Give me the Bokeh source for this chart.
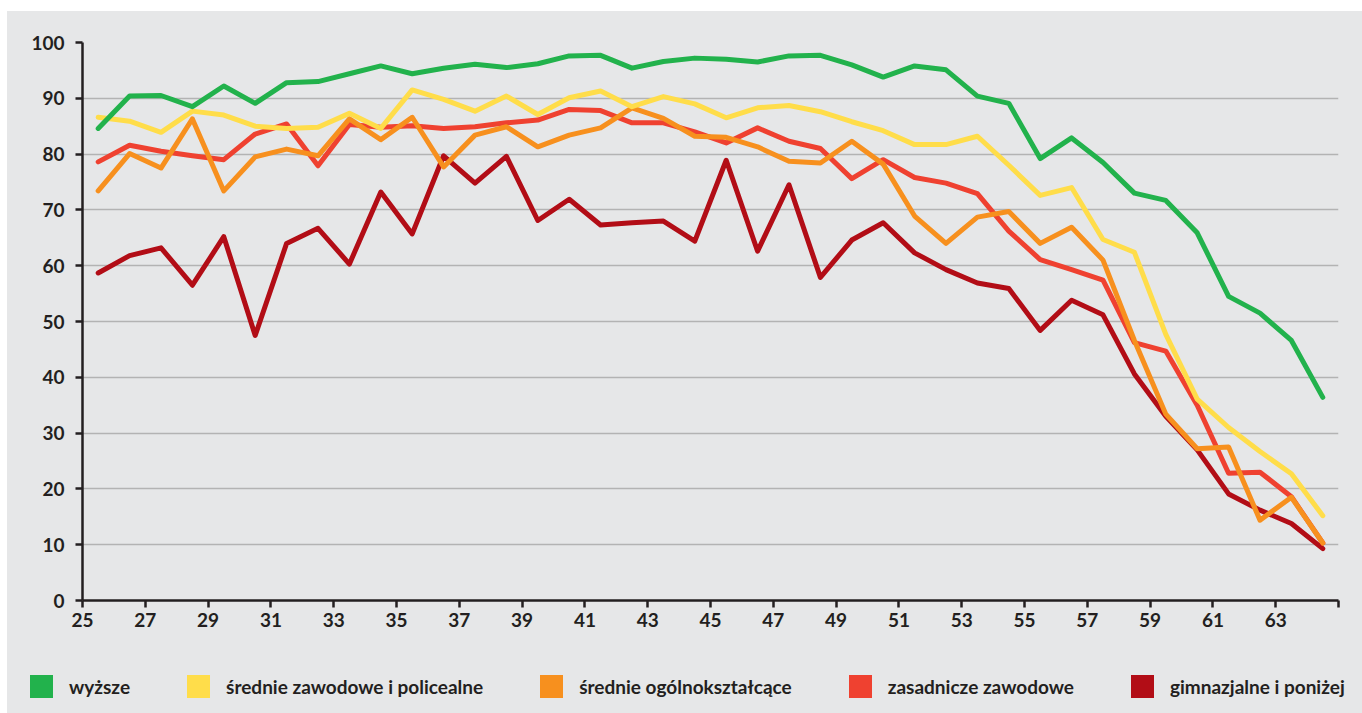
from bokeh.plotting import figure
from bokeh.layouts import column
from bokeh.models import Range1d, FixedTicker, Div
from bokeh.embed import file_html
from bokeh.resources import INLINE

ages = list(range(25, 65))

wyzsze = [84.6, 90.4, 90.5, 88.5, 92.2, 89.1, 92.8, 93.0, 94.4, 95.8, 94.4, 95.4, 96.1, 95.5, 96.2, 97.6, 97.7, 95.4, 96.6, 97.2,
          97.0, 96.5, 97.6, 97.7, 96.0, 93.8, 95.8, 95.1, 90.4, 89.1, 79.2, 82.9, 78.5, 73.0, 71.7, 65.9, 54.5, 51.5, 46.6, 36.4]
srednie_zaw = [86.6, 85.9, 83.9, 87.7, 87.0, 85.0, 84.6, 84.8, 87.3, 84.6, 91.5, 89.8, 87.7, 90.4, 87.1, 90.1, 91.3, 88.5, 90.3, 89.0,
               86.5, 88.3, 88.7, 87.6, 85.8, 84.2, 81.7, 81.7, 83.2, 78.0, 72.6, 74.0, 64.7, 62.4, 47.7, 36.1, 31.0, 26.7, 22.7, 15.2]
srednie_ogol = [73.4, 80.1, 77.5, 86.3, 73.4, 79.5, 80.9, 79.7, 86.3, 82.6, 86.6, 77.7, 83.4, 84.9, 81.3, 83.4, 84.7, 88.3, 86.4, 83.2,
                83.0, 81.3, 78.7, 78.4, 82.3, 78.2, 68.9, 64.0, 68.7, 69.7, 64.0, 66.9, 61.0, 46.6, 33.4, 27.2, 27.5, 14.4, 18.5, 10.3]
zasadnicze = [78.6, 81.6, 80.5, 79.7, 79.0, 83.6, 85.4, 77.9, 85.3, 84.8, 85.1, 84.6, 84.9, 85.6, 86.1, 88.0, 87.8, 85.6, 85.6, 84.0,
              82.0, 84.7, 82.3, 81.0, 75.6, 79.0, 75.8, 74.8, 72.9, 66.2, 61.1, 59.3, 57.4, 46.2, 44.7, 35.0, 22.8, 23.0, 18.6, 10.3]
gimnazjalne = [58.7, 61.8, 63.2, 56.5, 65.2, 47.5, 64.0, 66.7, 60.3, 73.2, 65.7, 79.7, 74.8, 79.6, 68.1, 71.9, 67.3, 67.7, 68.0, 64.4,
               78.9, 62.6, 74.5, 57.9, 64.6, 67.7, 62.3, 59.3, 56.9, 55.9, 48.4, 53.8, 51.2, 40.6, 33.0, 27.0, 19.1, 16.2, 13.8, 9.3]

names = ["wyższe", "średnie zawodowe i policealne", "średnie ogólnokształcące", "zasadnicze zawodowe", "gimnazjalne i poniżej"]
colors = ["#22b24c", "#ffdd4a", "#f7901e", "#ef4130", "#b20d16"]
series = [wyzsze, srednie_zaw, srednie_ogol, zasadnicze, gimnazjalne]

x_ticks = list(range(25, 67, 2))
y_ticks = list(range(0, 101, 10))

BG = "#e6e7e8"
TXT = "#231f20"
FONT = "Lato"

# ---- main chart ----
p = figure(width=1355, height=639, output_backend="svg", toolbar_location=None,
           margin=(0, 0, 0, 0),
           x_range=Range1d(25, 65), y_range=Range1d(0, 100),
           min_border_left=75, min_border_right=24, min_border_top=31, min_border_bottom=50)
p.background_fill_color = BG
p.border_fill_color = BG
p.outline_line_color = None

xs = [a + 0.5 for a in ages]
for vals, col in reversed(list(zip(series, colors))):
    p.line(xs, vals, line_color=col, line_width=5, line_join="round", line_cap="round")

p.xaxis.ticker = FixedTicker(ticks=x_ticks)
p.xaxis.major_label_overrides = {65: ""}
p.yaxis.ticker = FixedTicker(ticks=y_ticks)

for ax in (p.xaxis, p.yaxis):
    ax.axis_line_color = TXT
    ax.axis_line_width = 2.5
    ax.major_tick_line_color = TXT
    ax.major_tick_line_width = 2.5
    ax.major_tick_in = 0
    ax.major_tick_out = 7
    ax.minor_tick_line_color = None
    ax.major_label_text_font = FONT
    ax.major_label_text_font_size = "19px"
    ax.major_label_text_font_style = "bold"
    ax.major_label_text_color = TXT
p.xaxis.major_label_standoff = 5
p.yaxis.major_label_standoff = 11

p.xgrid.grid_line_color = None
p.ygrid.grid_line_color = "#b3b3b3"
p.ygrid.grid_line_width = 1.5

# ---- legend strip (HTML) ----
parts = []
for name, col in zip(names, colors):
    parts.append(
        f'<span style="display:inline-block;flex:none;width:23px;height:23px;background:{col};margin-right:16px"></span>'
        f'<span style="white-space:nowrap;margin-right:57px">{name}</span>'
    )
html = (f'<div style="display:flex;align-items:center;box-sizing:border-box;width:1355px;height:63px;'
        f'padding:25px 0 15px 23px;background:{BG};font-family:{FONT},sans-serif;font-weight:bold;'
        f'font-size:19px;color:{TXT}">' + "".join(parts) + '</div>')
lg = Div(text=html, width=1355, height=63, margin=(0, 0, 0, 0),
         styles={"background-color": BG})

layout = column(p, lg, spacing=0, margin=(11, 0, 0, 7), styles={"background-color": BG})
open("out.html", "w").write(file_html(layout, INLINE))
